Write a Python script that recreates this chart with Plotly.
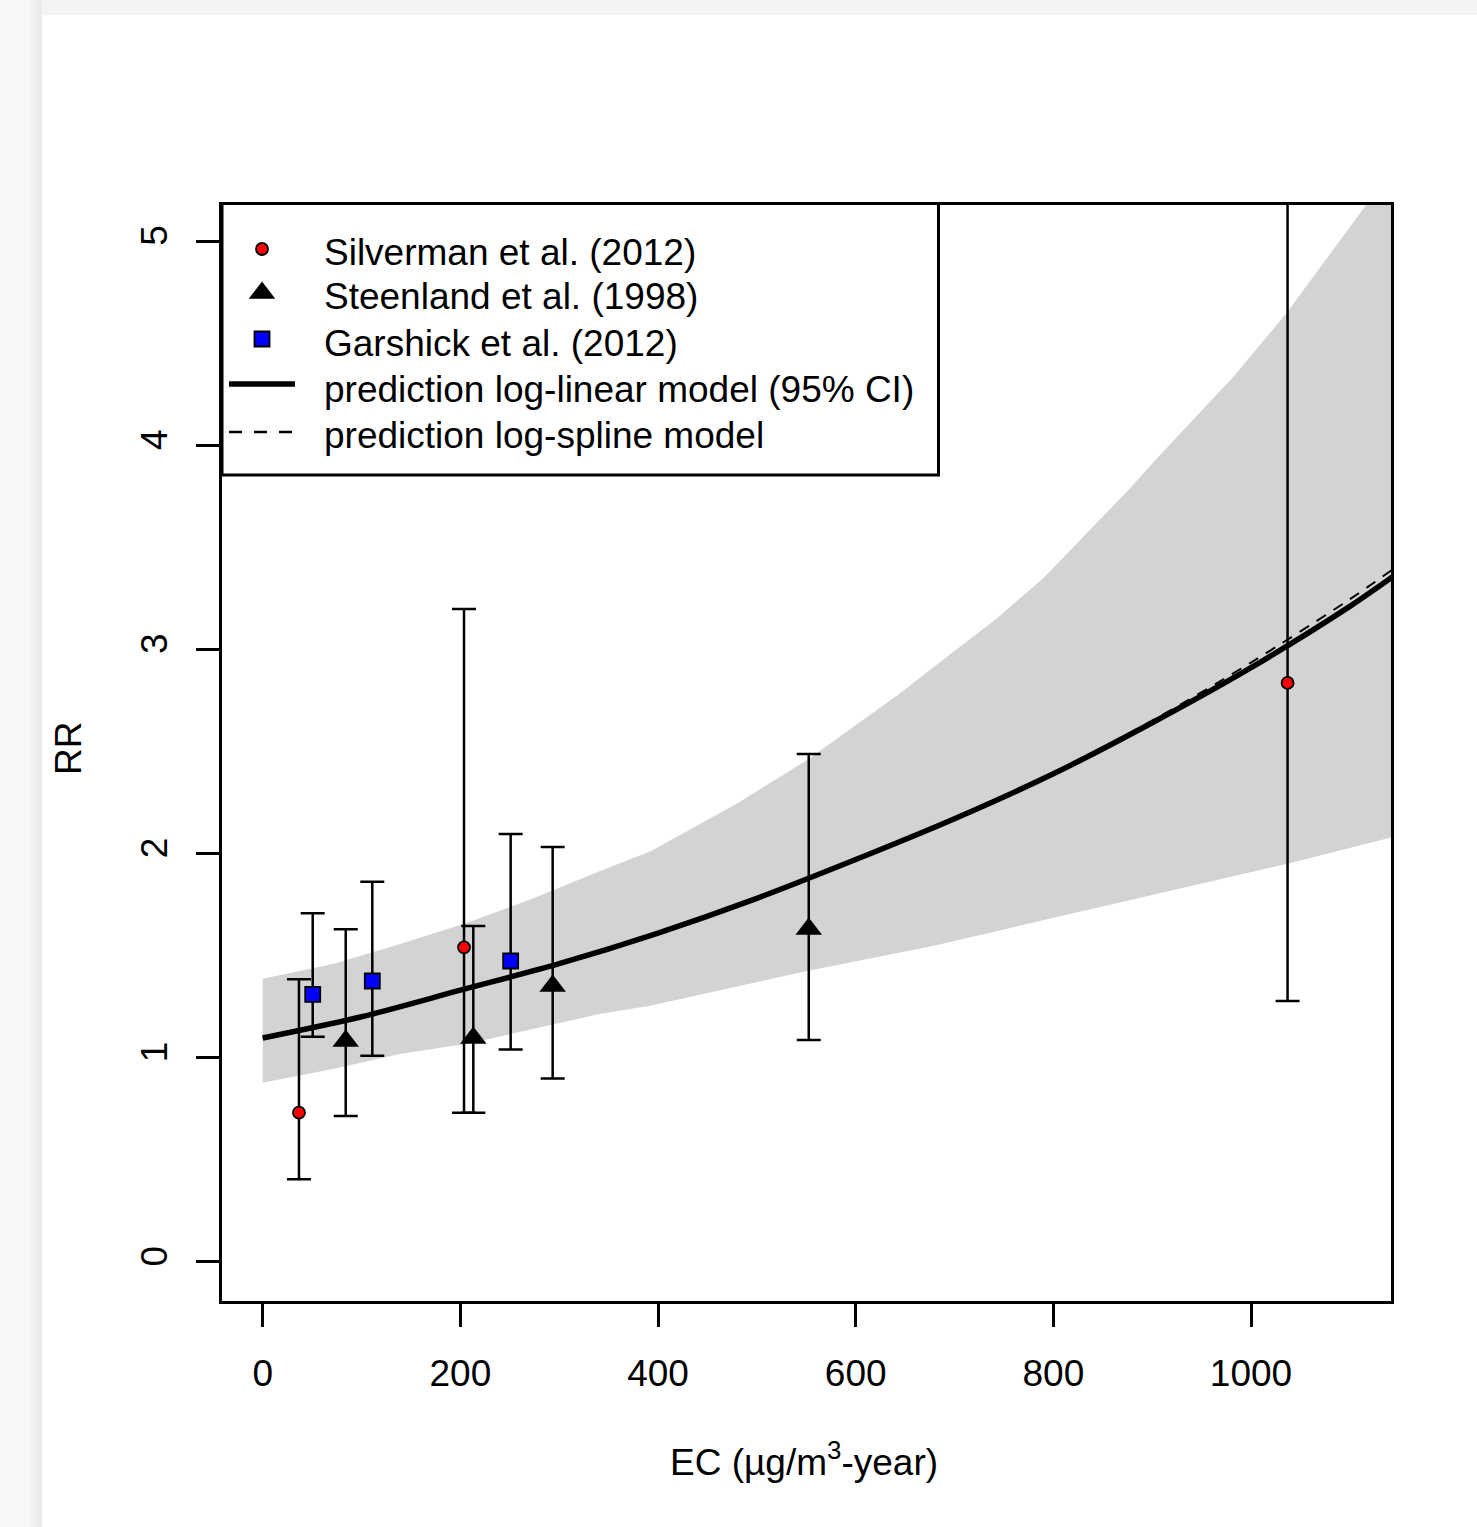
import plotly.graph_objects as go

# ---- study estimates: EC exposure (µg/m3-year), relative risk and 95% CI ----
silverman_ec = [36.7, 203.7, 1037.0]
silverman_rr = [0.73, 1.54, 2.835]
silverman_lo = [0.404, 0.73, 1.277]
silverman_hi = [1.383, 3.197, 5.80]

steenland_ec = [84.0, 213.1, 293.4, 552.5]
steenland_rr = [1.081, 1.096, 1.351, 1.63]
steenland_lo = [0.714, 0.73, 0.898, 1.086]
steenland_hi = [1.628, 1.644, 2.031, 2.487]

garshick_ec = [50.6, 110.9, 250.9]
garshick_rr = [1.31, 1.375, 1.473]
garshick_lo = [1.102, 1.009, 1.04]
garshick_hi = [1.707, 1.861, 2.095]

# ---- model predictions over the exposure range ----
pred_ec = [0, 100, 200, 300, 400, 500, 600, 700, 800, 900, 1000, 1100, 1143]
loglinear_rr = [1.096, 1.20, 1.33, 1.46, 1.61, 1.78, 1.97, 2.17, 2.39, 2.64, 2.91, 3.21, 3.354]
logspline_rr = [1.096, 1.20, 1.33, 1.46, 1.61, 1.78, 1.97, 2.17, 2.395, 2.65, 2.935, 3.245, 3.39]

# 95% confidence limits of the log-linear model
ci_upper_ec = [0, 72, 140, 207, 274, 342, 392, 480, 551, 645, 678, 743, 790, 876, 908, 982, 1036, 1117, 1143]
ci_upper = [1.386, 1.459, 1.557, 1.66, 1.78, 1.915, 2.01, 2.245, 2.458, 2.784, 2.91, 3.152, 3.349,
            3.78, 3.952, 4.334, 4.647, 5.18, 5.37]
ci_lower_ec = [0, 72, 140, 207, 274, 342, 392, 552, 678, 778, 876, 975, 1041, 1143]
ci_lower = [0.877, 0.945, 1.019, 1.068, 1.141, 1.214, 1.254, 1.425, 1.547, 1.66, 1.768, 1.88,
            1.954, 2.08]

x_ticks = [0, 200, 400, 600, 800, 1000]
y_ticks = [0, 1, 2, 3, 4, 5]

legend_labels = [
    "Silverman et al. (2012)",
    "Steenland et al. (1998)",
    "Garshick et al. (2012)",
    "prediction log-linear model (95% CI)",
    "prediction log-spline model",
]

FONT = "Liberation Sans, Arial, sans-serif"
FS = 37
W, H = 1477, 1527
ML, MR, MT, MB = 222, 86, 205, 226
PW, PH = W - ML - MR, H - MT - MB


def px(xp):
    return (xp - ML) / PW


def py(yp):
    return (H - MB - yp) / PH


fig = go.Figure()

# confidence band of the log-linear model
fig.add_trace(go.Scatter(
    x=ci_upper_ec + ci_lower_ec[::-1],
    y=ci_upper + ci_lower[::-1],
    fill="toself", fillcolor="#d3d3d3",
    line=dict(width=0), mode="lines", hoverinfo="skip", showlegend=False,
))

fig.add_trace(go.Scatter(
    x=pred_ec, y=logspline_rr, mode="lines",
    line=dict(color="black", width=2, dash="11px,9px", shape="spline", smoothing=0.8),
    showlegend=False,
))
fig.add_trace(go.Scatter(
    x=pred_ec, y=loglinear_rr, mode="lines",
    line=dict(color="black", width=5.5, shape="spline", smoothing=0.8), showlegend=False,
))


def study_trace(ec, rr, lo, hi, symbol, color, size):
    outline = 0 if symbol == "triangle-up" else 1.8
    return go.Scatter(
        x=ec, y=rr, mode="markers",
        marker=dict(symbol=symbol, color=color, size=size,
                    line=dict(color="black", width=outline)),
        error_y=dict(type="data", symmetric=False,
                     array=[h - r for h, r in zip(hi, rr)],
                     arrayminus=[r - l for r, l in zip(rr, lo)],
                     color="black", thickness=2.5, width=12),
        showlegend=False,
    )


fig.add_trace(study_trace(steenland_ec, steenland_rr, steenland_lo, steenland_hi,
                          "triangle-up", "black", 23))
fig.add_trace(study_trace(garshick_ec, garshick_rr, garshick_lo, garshick_hi,
                          "square", "#0000ff", 15))
fig.add_trace(study_trace(silverman_ec, silverman_rr, silverman_lo, silverman_hi,
                          "circle", "#ff0000", 12))

# ---- legend drawn in pixel space on an overlay axis pair ----
leg_sym_x = 262
leg_rows = [249, 293, 339, 384, 432]
leg_text_y = [252, 297, 343, 390, 435]
fig.add_trace(go.Scatter(
    x=[leg_sym_x], y=[leg_rows[0]], xaxis="x2", yaxis="y2", mode="markers",
    marker=dict(symbol="circle", color="#ff0000", size=12, line=dict(color="black", width=1.8)),
    showlegend=False, cliponaxis=False,
))
fig.add_trace(go.Scatter(
    x=[leg_sym_x], y=[leg_rows[1]], xaxis="x2", yaxis="y2", mode="markers",
    marker=dict(symbol="triangle-up", color="black", size=23),
    showlegend=False, cliponaxis=False,
))
fig.add_trace(go.Scatter(
    x=[leg_sym_x], y=[leg_rows[2]], xaxis="x2", yaxis="y2", mode="markers",
    marker=dict(symbol="square", color="#0000ff", size=15, line=dict(color="black", width=1.8)),
    showlegend=False, cliponaxis=False,
))

shapes = []
# page frame around the chart card
shapes.append(dict(type="rect", xref="paper", yref="paper", layer="below",
                   x0=px(0), x1=px(W), y0=py(0), y1=py(15),
                   fillcolor="#f4f4f4", line=dict(width=0)))
for x0, x1, c in [(0, 30, "#f7f7f7"), (30, 36, "#f1f1f1"), (36, 42, "#ebebeb")]:
    shapes.append(dict(type="rect", xref="paper", yref="paper", layer="below",
                       x0=px(x0), x1=px(x1), y0=py(0), y1=py(H),
                       fillcolor=c, line=dict(width=0)))
# legend box and line samples
shapes.append(dict(type="rect", xref="paper", yref="paper",
                   x0=px(222), x1=px(938.5), y0=py(203.5), y1=py(475),
                   line=dict(color="black", width=3)))
shapes.append(dict(type="line", xref="paper", yref="paper",
                   x0=px(229), x1=px(295), y0=py(leg_rows[3]), y1=py(leg_rows[3]),
                   line=dict(color="black", width=5.5)))
shapes.append(dict(type="line", xref="paper", yref="paper",
                   x0=px(229), x1=px(295), y0=py(leg_rows[4]), y1=py(leg_rows[4]),
                   line=dict(color="black", width=2.5, dash="13px,12px")))

annotations = []
for lab, ty in zip(legend_labels, leg_text_y):
    annotations.append(dict(text=lab, xref="paper", yref="paper", x=px(322), y=py(ty),
                            xanchor="left", yanchor="middle", showarrow=False,
                            font=dict(family=FONT, size=FS, color="black")))
annotations.append(dict(text="EC (µg/m<sup>3</sup>-year)", xref="paper", yref="paper",
                        x=px(804), y=py(1459), xanchor="center", yanchor="middle",
                        showarrow=False, font=dict(family=FONT, size=FS, color="black")))
annotations.append(dict(text="RR", xref="paper", yref="paper", textangle=-90,
                        x=px(68), y=py(749), xanchor="center", yanchor="middle",
                        showarrow=False, font=dict(family=FONT, size=FS, color="black")))

X_PER_UNIT = 0.9883
Y_PER_UNIT = 204.14
x0_px, y0_px = 262.7, 1261.7

axis_common = dict(showline=True, linecolor="black", linewidth=3, mirror=True,
                   ticks="outside", ticklen=23, tickwidth=2.5, tickcolor="black",
                   showgrid=False, zeroline=False, layer="below traces",
                   tickfont=dict(family=FONT, size=FS, color="black"))

fig.update_layout(
    width=W, height=H,
    margin=dict(l=ML, r=MR, t=MT, b=MB, pad=0),
    paper_bgcolor="white", plot_bgcolor="white",
    showlegend=False,
    xaxis=dict(range=[(ML - x0_px) / X_PER_UNIT, (W - MR - x0_px) / X_PER_UNIT],
               tickvals=x_ticks, ticktext=[str(v) for v in x_ticks],
               ticklabelstandoff=15, **axis_common),
    yaxis=dict(range=[(y0_px - (H - MB)) / Y_PER_UNIT, (y0_px - MT) / Y_PER_UNIT],
               tickvals=y_ticks, ticktext=[str(v) for v in y_ticks], tickangle=-90,
               ticklabelstandoff=14, **axis_common),
    xaxis2=dict(overlaying="x", range=[ML, W - MR], visible=False),
    yaxis2=dict(overlaying="y", range=[H - MB, MT], visible=False),
    shapes=shapes,
    annotations=annotations,
)

fig.write_html("out.html")
